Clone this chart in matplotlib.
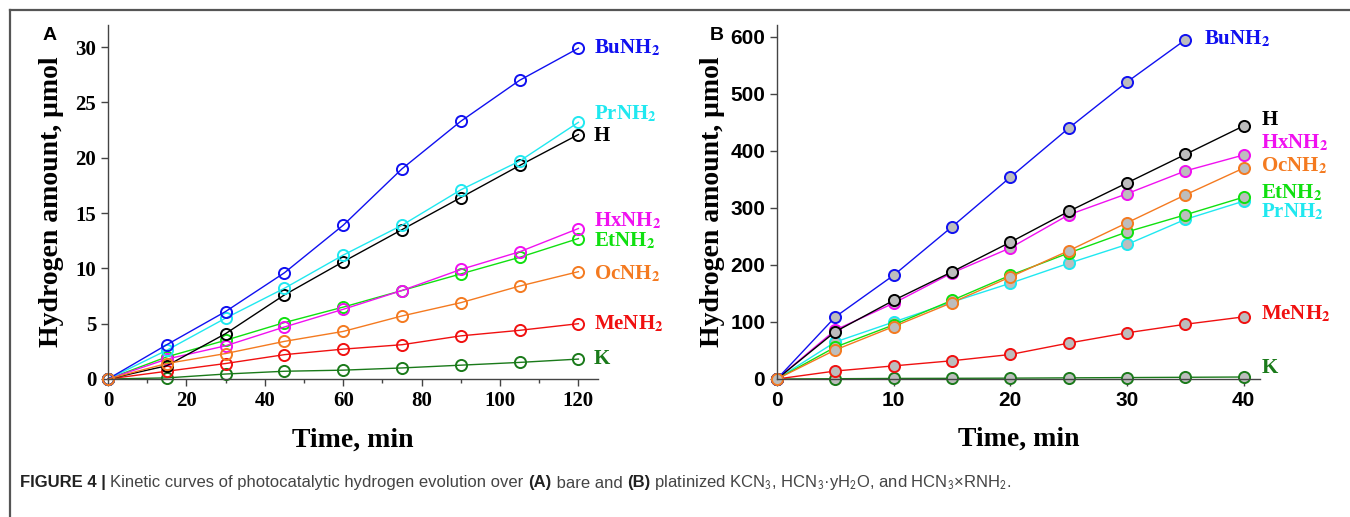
import matplotlib
matplotlib.use("Agg")
import matplotlib.pyplot as plt
from matplotlib.ticker import MultipleLocator

plt.rcParams["mathtext.fontset"] = "stix"

# ---- panel A: bare samples, 0..120 min
time_a = [0, 15, 30, 45, 60, 75, 90, 105, 120]
bu_a = [0, 3.1, 6.1, 9.6, 13.9, 19.0, 23.3, 27.0, 29.9]
pr_a = [0, 2.6, 5.5, 8.2, 11.2, 13.9, 17.1, 19.7, 23.2]
h_a = [0, 1.2, 4.1, 7.6, 10.6, 13.5, 16.4, 19.3, 22.1]
hx_a = [0, 1.8, 3.0, 4.7, 6.3, 8.0, 9.9, 11.5, 13.6]
et_a = [0, 2.0, 3.5, 5.1, 6.5, 8.0, 9.5, 11.0, 12.7]
oc_a = [0, 1.4, 2.3, 3.4, 4.3, 5.7, 6.9, 8.4, 9.7]
me_a = [0, 0.7, 1.4, 2.2, 2.7, 3.1, 3.9, 4.4, 5.0]
k_a = [0, 0.1, 0.45, 0.7, 0.8, 1.0, 1.25, 1.5, 1.8]

# ---- panel B: platinized samples, 0..40 min
time_b = [0, 5, 10, 15, 20, 25, 30, 35, 40]
bu_b = [0, 109, 182, 267, 354, 440, 521, 595]
h_b = [0, 83, 138, 188, 240, 294, 344, 394, 444]
hx_b = [0, 86, 133, 186, 230, 288, 325, 365, 393]
oc_b = [0, 51, 92, 134, 179, 225, 274, 323, 370]
et_b = [0, 56, 95, 138, 182, 221, 258, 288, 319]
pr_b = [0, 65, 100, 135, 168, 203, 236, 280, 312]
me_b = [0, 14, 23, 32, 43, 63, 81, 96, 109]
k_b = [0, 0.5, 1, 1.2, 1.5, 2, 2.5, 3, 3.5]

colors = {
    "Bu": "#1010f0", "Pr": "#20e8f0", "H": "#000000", "Hx": "#f010f0",
    "Et": "#10e010", "Oc": "#f47a20", "Me": "#f01010", "K": "#1a7a1a",
}
names = {
    "Bu": r"BuNH$_\mathbf{2}$", "Pr": r"PrNH$_\mathbf{2}$", "H": "H",
    "Hx": r"HxNH$_\mathbf{2}$", "Et": r"EtNH$_\mathbf{2}$",
    "Oc": r"OcNH$_\mathbf{2}$", "Me": r"MeNH$_\mathbf{2}$", "K": "K",
}

series_a = [("K", k_a), ("Me", me_a), ("Et", et_a), ("Hx", hx_a),
            ("H", h_a), ("Pr", pr_a), ("Bu", bu_a), ("Oc", oc_a)]
series_b = [("K", k_b), ("Me", me_b), ("Pr", pr_b), ("Et", et_b),
            ("Hx", hx_b), ("H", h_b), ("Bu", bu_b), ("Oc", oc_b)]

# label positions in data units, next to the last points
labels_a = {"Bu": 29.9, "Pr": 24.0, "H": 22.0, "Hx": 14.3, "Et": 12.5,
            "Oc": 9.5, "Me": 5.0, "K": 1.8}
labels_b = {"Bu": (36.6, 597), "H": (41.5, 454), "Hx": (41.5, 414),
            "Oc": (41.5, 374), "Et": (41.5, 326), "Pr": (41.5, 293),
            "Me": (41.5, 114), "K": (41.5, 19)}

serif = "Liberation Serif"
sans = "Liberation Sans"

fig = plt.figure(figsize=(13.5, 5.17), dpi=100)

# outer frame: top and left rules
fig.add_artist(plt.Line2D([10 / 1350, 1], [1 - 10 / 517] * 2, color="#555555", lw=1.6))
fig.add_artist(plt.Line2D([10 / 1350] * 2, [0, 1 - 10 / 517], color="#555555", lw=1.6))

ax_a = fig.add_axes([108 / 1350, 1 - 379 / 517, 490 / 1350, 354 / 517])
ax_b = fig.add_axes([777 / 1350, 1 - 379 / 517, 483 / 1350, 354 / 517])

for ax in (ax_a, ax_b):
    for side in ("top", "right"):
        ax.spines[side].set_visible(False)
    for side in ("left", "bottom"):
        ax.spines[side].set_color("#444444")
        ax.spines[side].set_linewidth(1.0)
    ax.tick_params(which="major", direction="out", length=5, width=1, color="#444444")
    ax.tick_params(which="minor", direction="out", length=3, width=1, color="#444444")

# panel A
for key, vals in series_a:
    ax_a.plot(time_a[:len(vals)], vals, color=colors[key], lw=1.0, marker="o",
              ms=8, mfc="none", mec=colors[key], mew=1.4, clip_on=False)
for key, yv in labels_a.items():
    ax_a.text(124, yv, names[key], color=colors[key], fontsize=15,
              fontweight="bold", family=serif, va="center", ha="left")
ax_a.set_xlim(0, 125)
ax_a.set_ylim(0, 32)
ax_a.xaxis.set_major_locator(MultipleLocator(20))
ax_a.xaxis.set_minor_locator(MultipleLocator(10))
ax_a.yaxis.set_major_locator(MultipleLocator(5))
for lab in ax_a.get_xticklabels() + ax_a.get_yticklabels():
    lab.set_family(serif)
    lab.set_fontweight("bold")
    lab.set_fontsize(15)
ax_a.set_xlabel("Time, min", family=serif, fontweight="bold", fontsize=20, labelpad=12)
ax_a.set_ylabel("Hydrogen amount, μmol", family=serif, fontweight="bold",
                fontsize=20, labelpad=8)
fig.text(50 / 1350, 1 - 35 / 517, "A", family=sans, fontweight="bold",
         fontsize=14, ha="center", va="center")

# panel B
for key, vals in series_b:
    ax_b.plot(time_b[:len(vals)], vals, color=colors[key], lw=1.0, marker="o",
              ms=8, mfc="#bdbdbd", mec=colors[key], mew=1.4, clip_on=False)
for key, (xv, yv) in labels_b.items():
    ax_b.text(xv, yv, names[key], color=colors[key], fontsize=15,
              fontweight="bold", family=serif, va="center", ha="left")
ax_b.set_xlim(0, 41.4)
ax_b.set_ylim(0, 621)
ax_b.xaxis.set_major_locator(MultipleLocator(10))
ax_b.xaxis.set_minor_locator(MultipleLocator(5))
ax_b.yaxis.set_major_locator(MultipleLocator(100))
for lab in ax_b.get_xticklabels() + ax_b.get_yticklabels():
    lab.set_family(sans)
    lab.set_fontweight("bold")
    lab.set_fontsize(15)
ax_b.set_xlabel("Time, min", family=serif, fontweight="bold", fontsize=20, labelpad=12)
ax_b.set_ylabel("Hydrogen amount, μmol", family=serif, fontweight="bold",
                fontsize=20, labelpad=4)
fig.text(717 / 1350, 1 - 35 / 517, "B", family=sans, fontweight="bold",
         fontsize=14, ha="center", va="center")

# caption, written piece by piece so bold and regular runs sit side by side
cap_font = ["Liberation Sans Narrow", "Liberation Sans", "DejaVu Sans"]
caption = [
    ("FIGURE 4 | ", "bold", "#222222"),
    ("Kinetic curves of photocatalytic hydrogen evolution over ", "normal", "#444444"),
    ("(A)", "bold", "#222222"),
    (" bare and ", "normal", "#444444"),
    ("(B)", "bold", "#222222"),
    (r" platinized KCN$_\mathsf{3}$, HCN$_\mathsf{3}$·yH$_\mathsf{2}$O, and "
     r"HCN$_\mathsf{3}$×RNH$_\mathsf{2}$.", "normal", "#444444"),
]
renderer = fig.canvas.get_renderer()
x_px = 20
for text, weight, col in caption:
    t = fig.text(x_px / 1350, 1 - 483 / 517, text, family=cap_font,
                 fontweight=weight, fontsize=12, color=col, va="center")
    x_px += t.get_window_extent(renderer).width

plt.savefig("out.png", dpi=100)
